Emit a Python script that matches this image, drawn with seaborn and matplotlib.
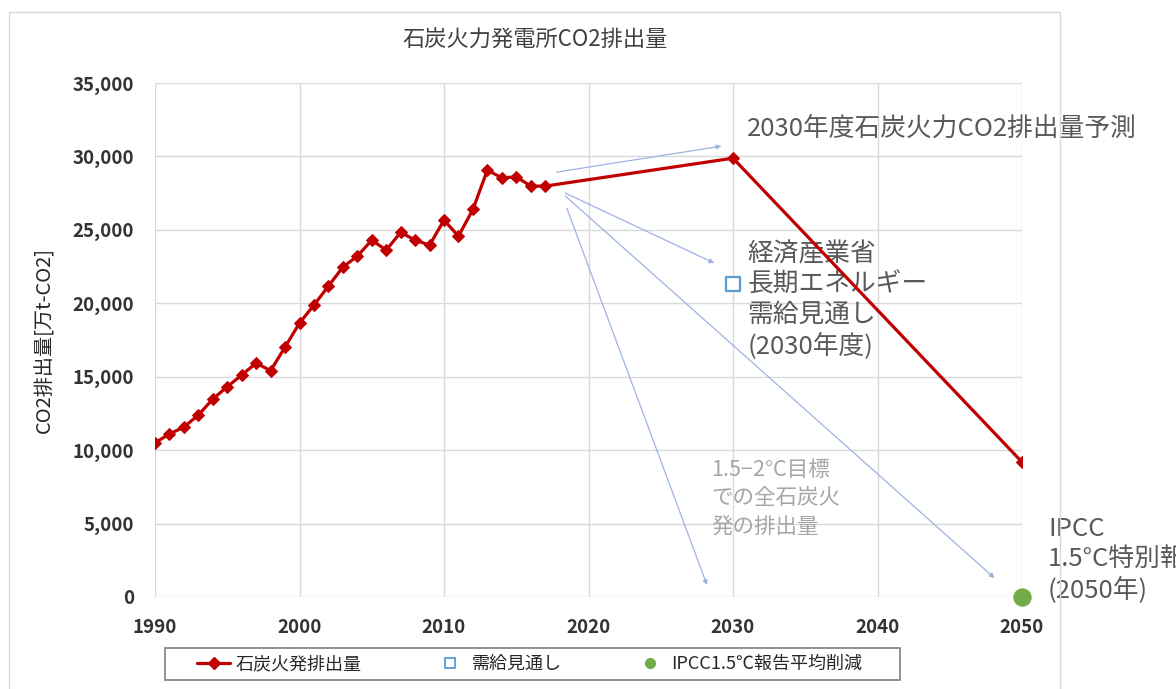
import matplotlib
matplotlib.use('Agg')
import matplotlib.pyplot as plt
import matplotlib.ticker as mticker
from matplotlib.lines import Line2D
from matplotlib.patches import Rectangle
import pandas as pd
import seaborn as sns

# coal power CO2 emissions [10k t-CO2]
years = [1990, 1991, 1992, 1993, 1994, 1995, 1996, 1997, 1998, 1999,
         2000, 2001, 2002, 2003, 2004, 2005, 2006, 2007, 2008, 2009,
         2010, 2011, 2012, 2013, 2014, 2015, 2016, 2017, 2030, 2050]
emissions = [10500, 11100, 11570, 12390, 13480, 14320, 15110, 15930, 15410, 17020,
             18650, 19880, 21170, 22460, 23210, 24300, 23620, 24830, 24300, 23960,
             25660, 24570, 26390, 29070, 28540, 28610, 27980, 27980, 29880, 9190]
outlook_year = [2030]
outlook_value = [21300]
ipcc_year = [2050]
ipcc_value = [0]

label_main = '石炭火発排出量'
label_outlook = '需給見通し'
label_ipcc = 'IPCC1.5℃報告平均削減'

df = pd.DataFrame({'year': years, 'co2': emissions})

sns.set_style('white')
plt.rcParams['font.family'] = ['Noto Sans CJK JP', 'DejaVu Sans']

RED = '#c00000'
BLUE = '#5b9bd5'
GREEN = '#70ad47'
GRID = '#d9d9d9'

fig = plt.figure(figsize=(11.76, 6.89), dpi=100)
ax = fig.add_axes([155 / 1176, 1 - 597 / 689, (1022 - 155) / 1176, (597 - 83) / 689])

sns.lineplot(data=df, x='year', y='co2', ax=ax, color=RED, linewidth=2.3,
             marker='D', markersize=6.5, markeredgecolor=RED, zorder=4)
sns.scatterplot(x=outlook_year, y=outlook_value, ax=ax, marker='s', s=110,
                facecolor='white', edgecolor=BLUE, linewidth=1.6, zorder=5)
sns.scatterplot(x=ipcc_year, y=ipcc_value, ax=ax, marker='o', s=150,
                color=GREEN, edgecolor=GREEN, zorder=5, clip_on=False)

ax.set_xlim(1990, 2050)
ax.set_ylim(0, 35000)
ax.set_xticks(range(1990, 2051, 10))
ax.set_yticks(range(0, 35001, 5000))
ax.yaxis.set_major_formatter(mticker.StrMethodFormatter('{x:,.0f}'))
ax.grid(True, color=GRID, linewidth=1)
ax.set_axisbelow(True)
for s in ax.spines.values():
    s.set_visible(False)
ax.tick_params(length=0, labelsize=13.5, colors='#333333', pad=15)
for t in ax.get_xticklabels() + ax.get_yticklabels():
    t.set_fontweight('bold')
ax.set_xlabel('')
ax.set_ylabel('CO2排出量[万t-CO2]', fontsize=14.5, color='#262626', labelpad=12)

fig.text(535 / 1176, 1 - 40 / 689, '石炭火力発電所CO2排出量', ha='center', va='center',
         fontsize=16, color='#404040')

# arrows
arrow_kw = dict(arrowstyle='-|>', color='#9db3e0', lw=0.9, mutation_scale=7,
                shrinkA=0, shrinkB=0)
for (x0, y0), (x1, y1) in [((2017.8, 28930), (2029.2, 30700)),
                           ((2018.4, 27500), (2028.7, 22740)),
                           ((2018.4, 27300), (2048.1, 1290)),
                           ((2018.5, 26480), (2028.2, 820))]:
    ax.annotate('', xy=(x1, y1), xytext=(x0, y0), arrowprops=arrow_kw, zorder=3)

txt = '#595959'
ax.text(2031, 31900, '2030年度石炭火力CO2排出量予測', fontsize=18.5, color=txt,
        va='center', ha='left', clip_on=False)
ax.text(2031, 24200, '経済産業省\n長期エネルギー\n需給見通し\n(2030年度)', fontsize=18.5,
        color=txt, va='top', ha='left', linespacing=1.2)
ax.text(2028.5, 9400, '1.5−2°C目標\nでの全石炭火\n発の排出量', fontsize=15.5,
        color='#a6a6a6', va='top', ha='left', linespacing=1.38)
ax.text(2051.8, 5500, 'IPCC\n1.5°C特別報告\n(2050年)', fontsize=18.5, color=txt,
        va='top', ha='left', linespacing=1.2, clip_on=False)

# chart border and legend box
fig.patches.append(Rectangle((9 / 1176, -0.01), (1060 - 9) / 1176, 1 - 12 / 689 + 0.01,
                             transform=fig.transFigure, fill=False,
                             edgecolor=GRID, lw=1))
fig.patches.append(Rectangle((165 / 1176, 1 - 680 / 689), 735 / 1176, 32 / 689,
                             transform=fig.transFigure, fill=False,
                             edgecolor='#7f7f7f', lw=1.2))

handles = [
    Line2D([], [], color=RED, lw=2.3, marker='D', markersize=6),
    Line2D([], [], color=BLUE, lw=0, marker='s', markersize=7,
           markerfacecolor='white', markeredgewidth=1.3),
    Line2D([], [], color=GREEN, lw=0, marker='o', markersize=7),
]
leg = ax.legend(handles, [label_main, label_outlook, label_ipcc], loc='center',
                bbox_to_anchor=(530 / 1176, 1 - 664 / 689),
                bbox_transform=fig.transFigure,
                ncol=3, frameon=False, fontsize=13, handlelength=1.8,
                handletextpad=0.3, columnspacing=4.0, borderpad=0.3,
                borderaxespad=0, labelcolor='#262626')

fig.savefig('out.png', dpi=100)
